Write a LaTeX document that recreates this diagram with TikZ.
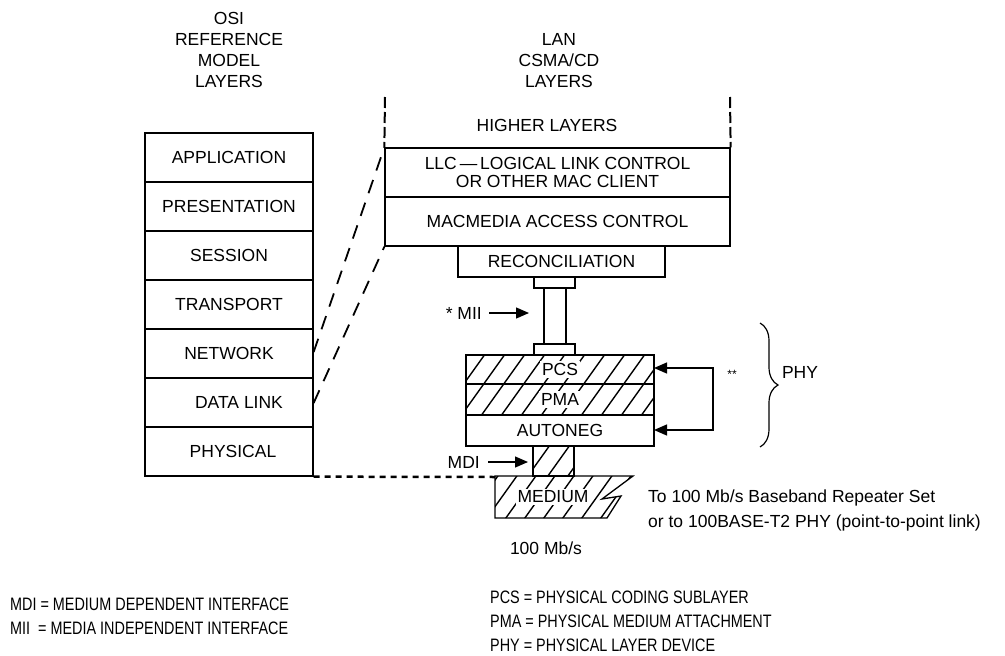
\documentclass[tikz,border=0pt]{standalone}
\usepackage{fontspec}
\setmainfont{Liberation Sans}
\newfontfamily\narrowfont[FakeStretch=0.8]{Liberation Sans}
\usetikzlibrary{arrows.meta,decorations.pathreplacing}
\tikzset{
 every node/.style={font=\fontsize{17.5pt}{18pt}\selectfont},
 box/.style={draw, line width=1.3pt, inner sep=0pt},
 osibox/.style={box, minimum width=168pt, minimum height=49pt},
 lanbox/.style={box, minimum width=345pt, minimum height=49pt},
 hatchline/.style={line width=1.4pt},
 lbl/.style={fill=white, inner sep=2pt},
 arr/.style={line width=1.3pt, -{Triangle[length=13pt,width=11pt]}},
 biarr/.style={line width=1.3pt, {Triangle[length=13pt,width=11pt]}-{Triangle[length=13pt,width=11pt]}},
 dashlink/.style={line width=1.8pt, dash pattern=on 14pt off 10pt},
 vdash/.style={line width=2pt, dash pattern=on 11pt off 4pt},
 dotlink/.style={line width=2.5pt, dash pattern=on 6pt off 5pt},
 legend/.style={anchor=west, inner sep=0pt, font=\narrowfont\fontsize{18pt}{18pt}\selectfont},
 plain/.style={inner sep=0pt},
}
\begin{document}
\begin{tikzpicture}[x=1pt,y=-1pt]
\useasboundingbox (0,0) rectangle (1005,656);
% titles
\node[plain] (t1) at (229,18) {OSI};
\node[plain] (t2) at (229,39) {REFERENCE};
\node[plain] (t3) at (229,60) {MODEL};
\node[plain] (t4) at (229,81) {LAYERS};
\node[plain] (l1) at (559,39) {LAN};
\node[plain] (l2) at (559,60) {CSMA/CD};
\node[plain] (l3) at (559,81) {LAYERS};
% OSI stack
\node[osibox] (app) at (229,157.5) {APPLICATION};
\node[osibox] (pres) at (229,206.5) {PRESENTATION};
\node[osibox] (sess) at (229,255.5) {SESSION};
\node[osibox] (trans) at (229,304.5) {TRANSPORT};
\node[osibox] (net) at (229,353.5) {NETWORK};
\node[osibox] (dl) at (229,402.5) {\hspace*{20pt}DATA LINK};
\node[osibox] (phys) at (229,451.5) {\hspace*{8pt}PHYSICAL};
% LAN stack
\node[plain] (higher) at (547,125) {HIGHER LAYERS};
\node[lanbox, align=center] (llc) at (557.5,172.5) {LLC\,—\,LOGICAL LINK CONTROL\\OR OTHER MAC CLIENT};
\node[lanbox] (mac) at (557.5,221.5) {MACMEDIA ACCESS CONTROL};
\node[box, minimum width=207pt, minimum height=31pt] (recon) at (561.5,261.5) {RECONCILIATION};
\node[box, minimum width=41pt, minimum height=11pt] (miitop) at (554.5,282.5) {};
\node[box, minimum width=22pt, minimum height=56pt] (tube) at (555,316) {};
\node[box, minimum width=41pt, minimum height=11pt] (miibot) at (554.5,349.5) {};
% hatching
\begin{scope}
\clip (466,355) rectangle (654,415);
\foreach \k in {0,...,13} \draw[hatchline] ({418+20*\k},420) -- ++(50,-70);
\end{scope}
\begin{scope}
\clip (533,446) rectangle (574,476);
\foreach \k in {0,...,4} \draw[hatchline] ({505+20*\k},480) -- ++(30,-42);
\end{scope}
\begin{scope}
\clip (495,476) -- (633,476) -- (602,499) -- (621,496) -- (607,518) -- (495,518) -- cycle;
\foreach \k in {0,...,10} \draw[hatchline] ({465+19*\k},522) -- ++(35,-49);
\end{scope}
\node[box, minimum width=188pt, minimum height=29pt] (pcs) at (560,369.5) {};
\node[box, minimum width=188pt, minimum height=31pt] (pma) at (560,399.5) {};
\node[box, minimum width=188pt, minimum height=31pt] (an) at (560,430.5) {AUTONEG};
\node[box, minimum width=41pt, minimum height=30pt] (mdi) at (553.5,461) {};
\draw[line width=1.3pt] (495,476) -- (633,476) -- (602,499) -- (621,496) -- (607,518) -- (495,518) -- cycle;
\node[lbl] (pcsl) at (pcs) {PCS};
\node[lbl] (pmal) at (pma) {PMA};
\node[lbl] (medl) at (553,497) {MEDIUM};
\coordinate (medL) at (495,477);
% links
\draw[dashlink] (net.east |- 0,352) -- (llc.north west);
\draw[dashlink] (dl.east |- 0,403) -- (mac.south west);
\coordinate (vl) at (385,97);
\coordinate (vr) at (730,97);
\draw[vdash] (vl) -- (llc.north west);
\draw[vdash] (vr) -- (llc.north east);
\draw[dotlink] (phys.south east) -- (medL);
% labels and arrows
\node[plain, anchor=east] (miil) at (482,313) {* MII};
\coordinate (miitip) at (529,313);
\draw[arr] (miil.east) ++(7,0) -- (miitip);
\node[plain, anchor=east] (mdil) at (480,462) {MDI};
\coordinate (mditip) at (528,462);
\draw[arr] (mdil.east) ++(8,0) -- (mditip);
\coordinate (pcsR) at (654,368);
\coordinate (anR) at (654,430);
\draw[biarr] (pcsR) -- ++(59,0) |- (anR);
\node[plain, font=\fontsize{12pt}{12pt}\selectfont] (stars) at (732,374) {**};
\draw[line width=1.2pt, decorate, decoration={brace, amplitude=18pt}] (760,323) -- (760,447);
\node[plain] (phy) at (800,372) {PHY};
\node[plain, anchor=west] (to1) at (648,498) {To 100 Mb/s Baseband Repeater Set};
\node[plain, anchor=west] (to2) at (648,523) {or to 100BASE-T2 PHY (point-to-point link)};
\node[plain] (rate) at (546,548) {100 Mb/s};
% legend
\node[legend] (g1) at (10,604) {MDI = MEDIUM DEPENDENT INTERFACE};
\node[legend] (g2) at (10,628) {MII\ \ = MEDIA INDEPENDENT INTERFACE};
\node[legend] (g3) at (490,597) {PCS = PHYSICAL CODING SUBLAYER};
\node[legend] (g4) at (490,621) {PMA = PHYSICAL MEDIUM ATTACHMENT};
\node[legend] (g5) at (490,645) {PHY = PHYSICAL LAYER DEVICE};
\end{tikzpicture}
\end{document}
